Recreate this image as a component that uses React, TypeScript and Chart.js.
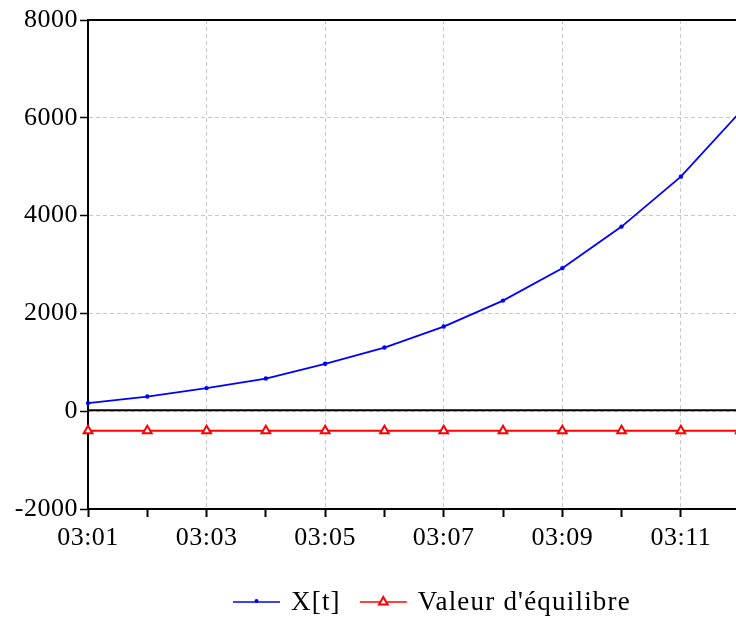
import React, { useEffect, useRef } from 'react';
import { Chart, registerables } from 'chart.js';

Chart.register(...registerables);

// ---- data ----
const times = ['03:01', '03:02', '03:03', '03:04', '03:05', '03:06', '03:07', '03:08', '03:09', '03:10', '03:11', '03:12'];
const xtValues = [166, 300, 472, 668, 969, 1302, 1731, 2262, 2925, 3775, 4797, 6120];
const equilibriumValues = [-400, -400, -400, -400, -400, -400, -400, -400, -400, -400, -400, -400];
const seriesNames = ['X[t]', "Valeur d'équilibre"];
const yTickValues = [-2000, 0, 2000, 4000, 6000, 8000];
const xTickLabels = ['03:01', '03:03', '03:05', '03:07', '03:09', '03:11'];

const FONT = "'Liberation Serif', 'Times New Roman', serif";
const FS = 26;
const LS = '0.5px';
const LEGEND_FS = 27;
const LEGEND_LS = '1.2px';

const minuteOf = (t: string) => Number(t.split(':')[1]);
const labelForMinute = (m: number) => xTickLabels.find((l) => minuteOf(l) === m) || '';

const spacingPlugin = {
  id: 'letterSpacing',
  beforeInit(c: any) { c.ctx.letterSpacing = LS; },
  beforeUpdate(c: any) { c.ctx.letterSpacing = LS; },
  beforeLayout(c: any) { c.ctx.letterSpacing = LS; },
  beforeDraw(c: any) { c.ctx.letterSpacing = LS; },
};

const framePlugin = {
  id: 'frame',
  beforeDatasetsDraw(c: any) {
    const { ctx, chartArea: a, scales } = c;
    ctx.save();
    ctx.strokeStyle = '#000';
    ctx.lineWidth = 2;
    ctx.beginPath();
    ctx.moveTo(a.left - 1, a.top);
    ctx.lineTo(a.right, a.top);
    ctx.stroke();
    const y0 = scales.y.getPixelForValue(0);
    ctx.lineWidth = 2;
    ctx.beginPath();
    ctx.moveTo(a.left, y0 - 1);
    ctx.lineTo(a.right, y0 - 1);
    ctx.stroke();
    ctx.restore();
  },
};

const legendPlugin = {
  id: 'customLegend',
  afterDraw(c: any) {
    const ctx = c.ctx;
    ctx.save();
    ctx.font = `${LEGEND_FS}px ${FONT}`;
    ctx.letterSpacing = LEGEND_LS;
    ctx.textBaseline = 'middle';
    ctx.textAlign = 'left';
    let x = 233;
    const y = 602;
    c.data.datasets.forEach((ds: any, i: number) => {
      ctx.strokeStyle = ds.borderColor;
      ctx.lineWidth = 1.5;
      ctx.beginPath();
      ctx.moveTo(x, y);
      ctx.lineTo(x + 47, y);
      ctx.stroke();
      const cx = x + 23.5;
      if (i === 0) {
        ctx.fillStyle = ds.borderColor;
        ctx.beginPath();
        ctx.arc(cx, y - 1, 2, 0, Math.PI * 2);
        ctx.fill();
      } else {
        const r = 5;
        ctx.fillStyle = '#fff';
        ctx.lineWidth = 2;
        ctx.beginPath();
        ctx.moveTo(cx, y - r);
        ctx.lineTo(cx - r * 0.866, y + r * 0.5);
        ctx.lineTo(cx + r * 0.866, y + r * 0.5);
        ctx.closePath();
        ctx.fill();
        ctx.stroke();
      }
      ctx.fillStyle = '#000';
      ctx.fillText(ds.label, x + 58, y + 1);
      x += 58 + ctx.measureText(ds.label).width + 19;
    });
    ctx.restore();
  },
};

export default function App() {
  const ref = useRef<HTMLCanvasElement | null>(null);
  useEffect(() => {
    if (!ref.current) return;
    Chart.defaults.font.family = FONT;
    const chart = new Chart(ref.current, {
      type: 'line',
      data: {
        datasets: [
          {
            label: seriesNames[0],
            data: times.map((t, i) => ({ x: minuteOf(t), y: xtValues[i] })),
            borderColor: '#0000ff',
            backgroundColor: '#0000ff',
            borderWidth: 1.8,
            pointRadius: 2.2,
            pointStyle: 'circle',
            pointBorderWidth: 0,
            tension: 0,
            clip: false as any,
          },
          {
            label: seriesNames[1],
            data: times.map((t, i) => ({ x: minuteOf(t), y: equilibriumValues[i] })),
            borderColor: '#ff0000',
            backgroundColor: '#ffffff',
            borderWidth: 1.8,
            pointRadius: 5,
            pointStyle: 'triangle',
            pointBorderWidth: 2,
            pointBackgroundColor: '#ffffff',
            tension: 0,
            clip: false as any,
          },
        ],
      },
      options: {
        responsive: false,
        maintainAspectRatio: false,
        animation: false,
        devicePixelRatio: 1,
        layout: { autoPadding: false, padding: { top: 20, left: 0, right: 0, bottom: 0 } },
        plugins: { legend: { display: false }, tooltip: { enabled: false } },
        scales: {
          x: {
            type: 'linear',
            min: 1,
            max: 11.93,
            afterFit: (s: any) => { s.height = 108; s.paddingRight = 0; s.paddingLeft = 0; },
            ticks: {
              stepSize: 1,
              includeBounds: false,
              autoSkip: false,
              maxRotation: 0,
              padding: 6,
              color: '#000',
              font: { family: FONT, size: FS },
              callback: (v: any) => labelForMinute(Number(v)),
            },
            grid: {
              color: (ctx: any) => (ctx.tick && labelForMinute(ctx.tick.value) ? '#c8c8c8' : 'rgba(0,0,0,0)'),
              lineWidth: 1,
              drawTicks: true,
              tickColor: '#000',
              tickLength: 8,
              tickWidth: 2,
            },
            border: { display: true, color: '#000', width: 2, dash: [4, 3] },
          },
          y: {
            type: 'linear',
            min: -2000,
            max: 8000,
            afterFit: (s: any) => { s.width = 88; },
            afterBuildTicks: (s: any) => { s.ticks = yTickValues.map((v) => ({ value: v })); },
            ticks: {
              stepSize: 2000,
              padding: 2,
              color: '#000',
              font: { family: FONT, size: FS },
              callback: (v: any) => String(v),
            },
            grid: {
              color: (ctx: any) => (ctx.tick && (ctx.tick.value === 8000 || ctx.tick.value === -2000) ? 'rgba(0,0,0,0)' : '#c8c8c8'),
              lineWidth: 1,
              drawTicks: true,
              tickColor: '#000',
              tickLength: 8,
              tickWidth: 1.5,
            },
            border: { display: true, color: '#000', width: 2, dash: [4, 3] },
          },
        },
      } as any,
      plugins: [spacingPlugin, framePlugin, legendPlugin],
    });
    return () => chart.destroy();
  }, []);
  return (
    <div style={{ position: 'absolute', left: 0, top: 0, width: 736, height: 617, background: '#fff' }}>
      <canvas ref={ref} width={736} height={617} />
    </div>
  );
}
